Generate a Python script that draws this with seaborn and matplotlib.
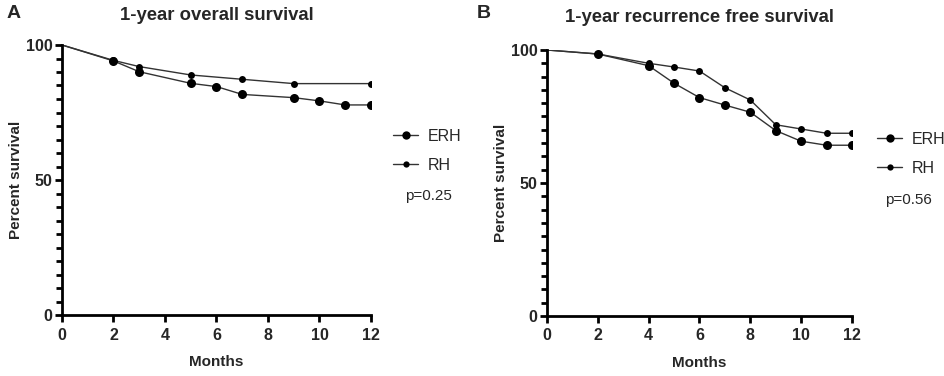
import numpy as np
import pandas as pd
import matplotlib
matplotlib.use("Agg")
import matplotlib.pyplot as plt
import seaborn as sns
from matplotlib.ticker import MultipleLocator
from matplotlib.lines import Line2D

# ---- data ----
months_A_erh = [0, 2, 3, 5, 6, 7, 9, 10, 11, 12]
surv_A_erh = [100, 94.1, 90.1, 85.8, 84.6, 81.7, 80.5, 79.3, 77.8, 77.8]
months_A_rh = [0, 2, 3, 5, 7, 9, 12]
surv_A_rh = [100, 94.3, 92.0, 88.9, 87.3, 85.7, 85.7]

months_B_erh = [0, 2, 4, 5, 6, 7, 8, 9, 10, 11, 12]
surv_B_erh = [100, 98.5, 94.1, 87.5, 82.1, 79.3, 76.6, 69.7, 65.7, 64.2, 64.2]
months_B_rh = [0, 2, 4, 5, 6, 7, 8, 9, 10, 11, 12]
surv_B_rh = [100, 98.5, 95.0, 93.6, 92.1, 85.8, 81.2, 71.9, 70.3, 68.7, 68.7]

groups = ["ERH", "RH"]
titles = ["1-year overall survival", "1-year recurrence free survival"]
panel_letters = ["A", "B"]
p_values = ["p=0.25", "p=0.56"]
x_ticks = [0, 2, 4, 6, 8, 10, 12]
y_ticks = [0, 50, 100]

sns.set_theme(style="ticks")
plt.rcParams["font.family"] = ["Liberation Sans", "DejaVu Sans"]

def build_df(m_erh, s_erh, m_rh, s_rh):
    return pd.concat([
        pd.DataFrame({"Months": m_erh, "Survival": s_erh, "Group": groups[0]}),
        pd.DataFrame({"Months": m_rh, "Survival": s_rh, "Group": groups[1]}),
    ], ignore_index=True)

dfs = [build_df(months_A_erh, surv_A_erh, months_A_rh, surv_A_rh),
       build_df(months_B_erh, surv_B_erh, months_B_rh, surv_B_rh)]

fig = plt.figure(figsize=(9.45, 3.76), dpi=100)
W, H = 945, 376
boxes = [(62, 45, 371, 315), (547, 50, 852, 316)]
legend_pos = [(393, 129), (877, 132)]
p_pos = [(405, 196), (885, 200)]
letter_pos = [(7, 14), (477, 13)]
title_pad = [18, 20]

for i, (df, box) in enumerate(zip(dfs, boxes)):
    l, t, r, b = box
    ax = fig.add_axes([l / W, (H - b) / H, (r - l) / W, (b - t) / H])
    for g, ms in zip(groups, [6.5, 5]):
        sub = df[df["Group"] == g]
        sns.lineplot(data=sub, x="Months", y="Survival", ax=ax, color="#333333",
                     linewidth=1.0, legend=False)
        pts = sub[sub["Months"] > 0]
        sns.scatterplot(data=pts, x="Months", y="Survival", ax=ax, color="black",
                        s=ms ** 2, linewidth=0, legend=False, zorder=3)
    ax.set_xlim(0, 12)
    ax.set_ylim(0, 100)
    ax.set_xticks(x_ticks)
    ax.set_yticks(y_ticks)
    ax.yaxis.set_minor_locator(MultipleLocator(5))
    sns.despine(ax=ax)
    for s in ["left", "bottom"]:
        ax.spines[s].set_linewidth(2)
        ax.spines[s].set_color("black")
    ax.tick_params(axis="x", which="major", direction="out", length=5, width=2,
                   labelsize=11.5, color="black", pad=4)
    ax.tick_params(axis="y", which="major", direction="out", length=5, width=2,
                   labelsize=11.5, color="black", pad=2)
    ax.tick_params(axis="y", which="minor", direction="out", length=4, width=2, color="black")
    for lab in ax.get_xticklabels() + ax.get_yticklabels():
        lab.set_fontweight("bold")
    ax.set_xlabel("Months", fontsize=11, fontweight="bold", labelpad=9)
    ax.set_ylabel("Percent survival", fontsize=11, fontweight="bold", labelpad=2)
    ax.set_title(titles[i], fontsize=13.3, fontweight="bold", pad=title_pad[i])

    handles = [Line2D([0], [0], color="#333333", lw=1, marker="o", markersize=ms,
                      markeredgewidth=0, markerfacecolor="black") for ms in [6, 4.5]]
    lx, ly = legend_pos[i]
    ax.legend(handles, groups, loc="upper left", bbox_to_anchor=(lx / W, 1 - ly / H),
              bbox_transform=fig.transFigure, frameon=False, fontsize=11.5,
              handlelength=1.57, handletextpad=0.6, labelspacing=0.85,
              borderaxespad=0, borderpad=0)
    px, py = p_pos[i]
    fig.text(px / W, 1 - py / H, p_values[i], fontsize=11, ha="left", va="center")
    lx2, ly2 = letter_pos[i]
    fig.text(lx2 / W, 1 - ly2 / H, panel_letters[i], fontsize=14, fontweight="bold",
             ha="left", va="center")

fig.savefig("out.png", dpi=100)
